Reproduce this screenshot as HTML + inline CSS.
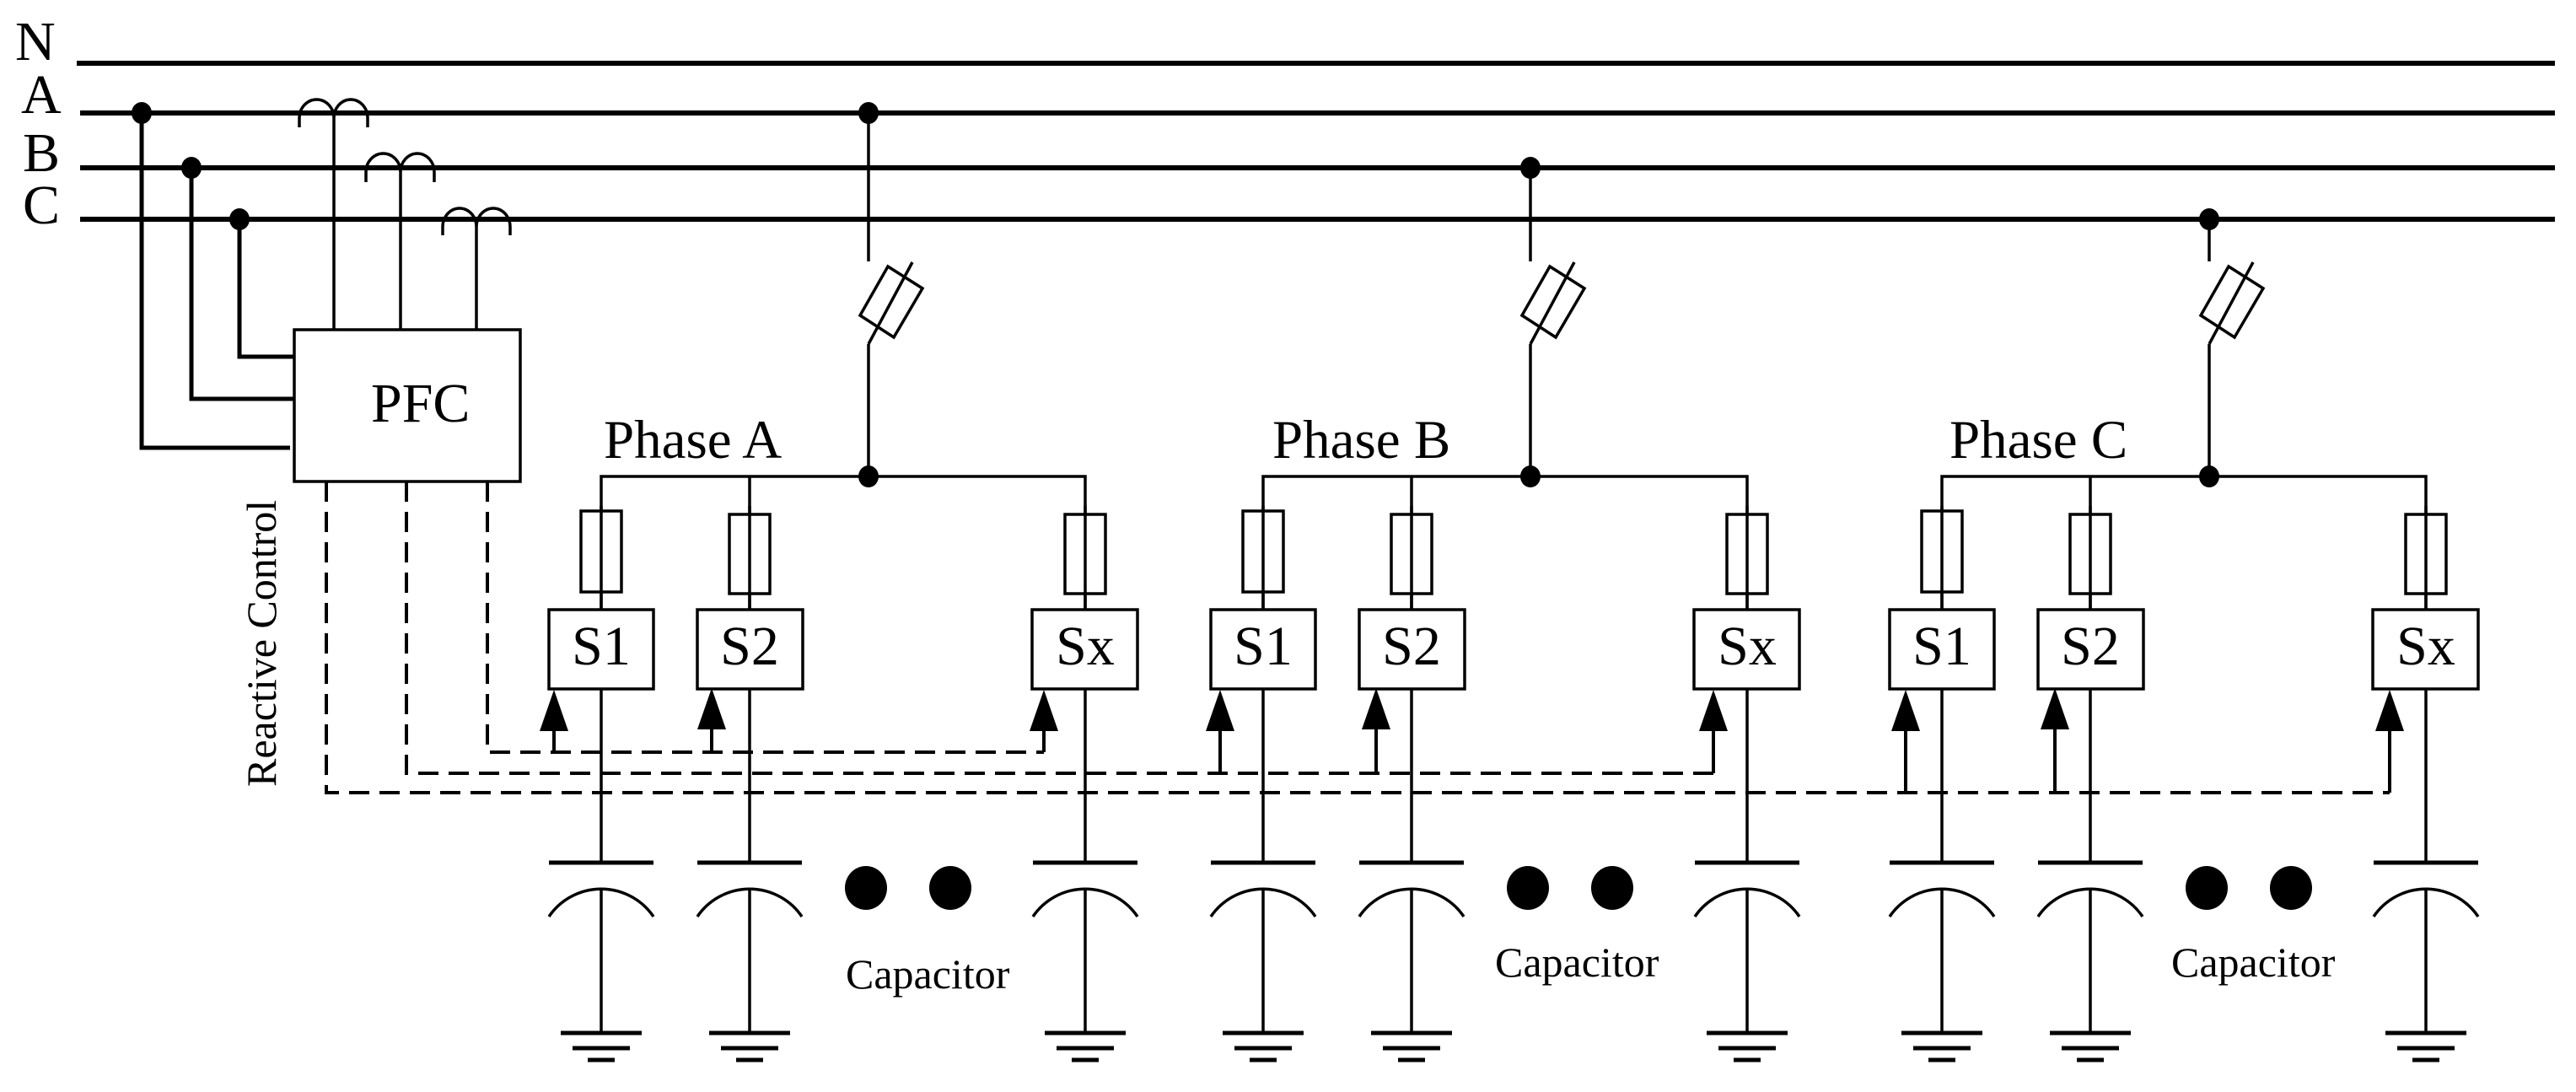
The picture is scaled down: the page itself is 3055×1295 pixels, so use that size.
<!DOCTYPE html>
<html><head><meta charset="utf-8"><style>
html,body{margin:0;padding:0;background:#fff;}
svg{display:block;}
text{font-family:"Liberation Serif",serif;fill:#000;}
</style></head><body>
<svg width="3055" height="1295" viewBox="0 0 3055 1295" xmlns="http://www.w3.org/2000/svg">
<rect width="3055" height="1295" fill="#fff"/>
<g font-size="66">
<text x="18" y="71">N</text>
<text x="25" y="134">A</text>
<text x="27" y="203">B</text>
<text x="27" y="265">C</text>
</g>
<g stroke="#000" stroke-width="6" fill="none">
<line x1="91" y1="75" x2="3030" y2="75"/>
<line x1="95" y1="134" x2="3030" y2="134"/>
<line x1="95" y1="199" x2="3030" y2="199"/>
<line x1="95" y1="260" x2="3030" y2="260"/>
</g>
<!-- PFC connections -->
<g stroke="#000" stroke-width="5" fill="none">
<polyline points="168,134 168,531 344,531"/>
<polyline points="227,199 227,473 349,473"/>
<polyline points="284,260 284,423 349,423"/>
</g>
<g fill="#000">
<ellipse cx="168" cy="134" rx="12" ry="13"/>
<ellipse cx="227" cy="199" rx="12" ry="13"/>
<ellipse cx="284" cy="260" rx="12" ry="13"/>
</g>
<!-- CT coils -->
<g stroke="#000" stroke-width="3.5" fill="none">
<path d="M355 151 L355 140 A20.5 22 0 0 1 396 140 A20 22 0 0 1 436 140 L436 151"/>
<line x1="396" y1="140" x2="396" y2="391"/>
<path d="M434 216 L434 204 A20.5 22 0 0 1 475 204 A20 22 0 0 1 515 204 L515 216"/>
<line x1="475" y1="204" x2="475" y2="391"/>
<path d="M525 279 L525 269 A20 22 0 0 1 565 269 A20 22 0 0 1 605 269 L605 279"/>
<line x1="565" y1="269" x2="565" y2="391"/>
<rect x="349" y="391" width="268" height="180"/>
</g>
<text x="440" y="500" font-size="66">PFC</text>
<text transform="translate(327,933) rotate(-90)" font-size="50">Reactive Control</text>
<!-- dashed control lines -->
<g stroke="#000" stroke-width="4" fill="none" stroke-dasharray="24,12">
<polyline points="578,571 578,892 1238,892"/>
<polyline points="482,571 482,917 2032,917"/>
<polyline points="387,571 387,940 2834,940"/>
</g>
<!-- arrows -->
<g stroke="#000" stroke-width="4" fill="#000">
<line x1="657" y1="892" x2="657" y2="860"/><line x1="844" y1="892" x2="844" y2="860"/><line x1="1238" y1="892" x2="1238" y2="860"/>
<line x1="1447" y1="917" x2="1447" y2="860"/><line x1="1632" y1="917" x2="1632" y2="860"/><line x1="2032" y1="917" x2="2032" y2="860"/>
<line x1="2260" y1="940" x2="2260" y2="860"/><line x1="2437" y1="940" x2="2437" y2="860"/><line x1="2834" y1="940" x2="2834" y2="860"/>
</g>
<g fill="#000">
<polygon points="657,818 640,867 674,867"/><polygon points="844,816 827,865 861,865"/><polygon points="1238,818 1221,867 1255,867"/>
<polygon points="1447,818 1430,867 1464,867"/><polygon points="1632,816 1615,865 1649,865"/><polygon points="2032,818 2015,867 2049,867"/>
<polygon points="2260,818 2243,867 2277,867"/><polygon points="2437,816 2420,865 2454,865"/><polygon points="2834,818 2817,867 2851,867"/>
</g>
<!-- feeder tops -->
<g stroke="#000" stroke-width="3.5">
<line x1="1030" y1="134" x2="1030" y2="310"/>
<line x1="1815" y1="199" x2="1815" y2="310"/>
<line x1="2620" y1="260" x2="2620" y2="310"/>
</g>
<defs>
<g id="ph">
<g stroke="#000" stroke-width="3.5" fill="none">
<line x1="1082" y1="311" x2="1030" y2="408"/>
<line x1="1030" y1="408" x2="1030" y2="565"/>
<polygon points="1053,316 1094,342 1060,400 1020,374"/>
<polyline points="713,1023 713,565 1287,565 1287,1023"/>
<line x1="889" y1="565" x2="889" y2="1023"/>
<rect x="689" y="606" width="48" height="96" fill="#fff"/>
<rect x="865" y="610" width="48" height="94" fill="#fff"/>
<rect x="1263" y="610" width="48" height="94" fill="#fff"/>
<line x1="713" y1="600" x2="713" y2="723"/><line x1="889" y1="600" x2="889" y2="723"/><line x1="1287" y1="600" x2="1287" y2="723"/>
<rect x="651" y="723" width="124" height="94" fill="#fff"/>
<rect x="827" y="723" width="125" height="94" fill="#fff"/>
<rect x="1224" y="723" width="125" height="94" fill="#fff"/>
<line x1="713" y1="1053" x2="713" y2="1225"/><line x1="889" y1="1053" x2="889" y2="1225"/><line x1="1287" y1="1053" x2="1287" y2="1225"/>
<path d="M651 1087 A75 75 0 0 1 775 1087"/>
<path d="M827 1087 A75 75 0 0 1 951 1087"/>
<path d="M1225 1087 A75 75 0 0 1 1349 1087"/>
</g>
<g stroke="#000" stroke-width="5">
<line x1="651" y1="1023" x2="775" y2="1023"/><line x1="827" y1="1023" x2="951" y2="1023"/><line x1="1225" y1="1023" x2="1349" y2="1023"/>
<line x1="665" y1="1225" x2="761" y2="1225"/><line x1="679" y1="1243" x2="747" y2="1243"/><line x1="697" y1="1257" x2="729" y2="1257"/>
<line x1="841" y1="1225" x2="937" y2="1225"/><line x1="855" y1="1243" x2="923" y2="1243"/><line x1="873" y1="1257" x2="905" y2="1257"/>
<line x1="1239" y1="1225" x2="1335" y2="1225"/><line x1="1253" y1="1243" x2="1321" y2="1243"/><line x1="1271" y1="1257" x2="1303" y2="1257"/>
</g>
<g fill="#000">
<ellipse cx="1030" cy="565" rx="12" ry="13"/>
<ellipse cx="1027" cy="1053" rx="25" ry="26"/>
<ellipse cx="1127" cy="1053" rx="25" ry="26"/>
</g>
<g font-size="66" text-anchor="middle">
<text x="713" y="788">S1</text><text x="889" y="788">S2</text><text x="1287" y="788">Sx</text>
</g>
</g>
</defs>
<use href="#ph" x="0"/>
<use href="#ph" x="785"/>
<use href="#ph" x="1590"/>
<g fill="#000">
<ellipse cx="1030" cy="134" rx="12" ry="13"/>
<ellipse cx="1815" cy="199" rx="12" ry="13"/>
<ellipse cx="2620" cy="260" rx="12" ry="13"/>
</g>
<g font-size="65">
<text x="716" y="543">Phase A</text>
<text x="1509" y="543">Phase B</text>
<text x="2312" y="543">Phase C</text>
</g>
<g font-size="50">
<text x="1003" y="1172">Capacitor</text>
<text x="1773" y="1158">Capacitor</text>
<text x="2575" y="1158">Capacitor</text>
</g>
</svg>
</body></html>
